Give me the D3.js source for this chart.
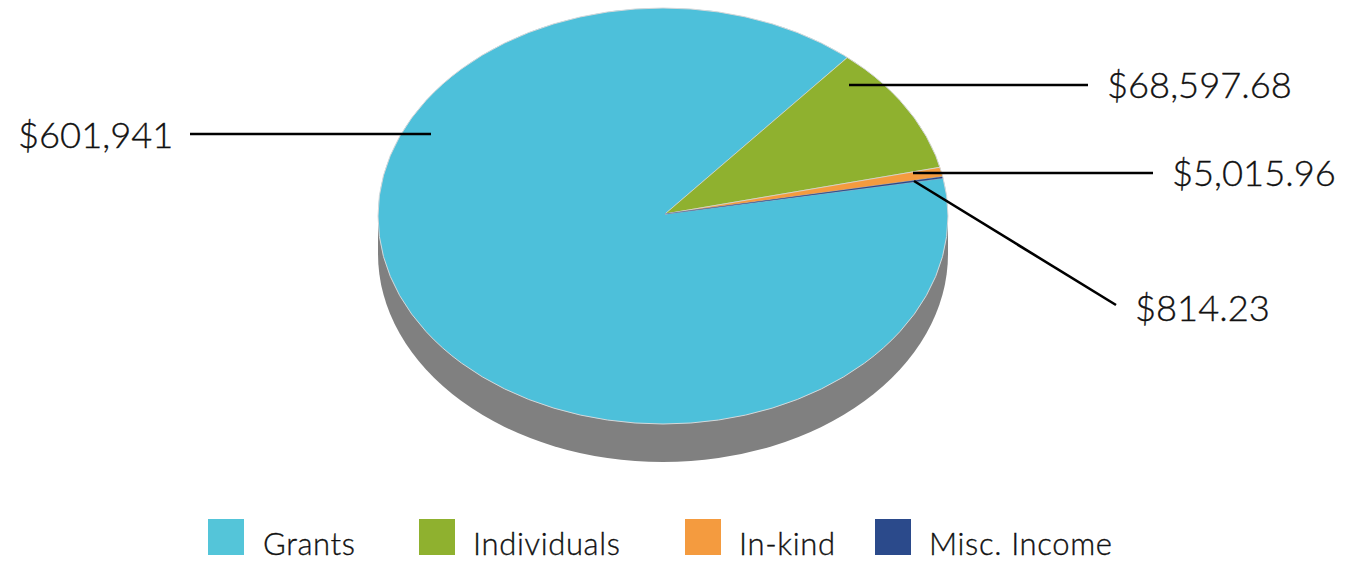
<!DOCTYPE html>
<html>
<head>
<meta charset="utf-8">
<script src="https://cdn.jsdelivr.net/npm/d3@7/dist/d3.min.js"></script>
<style>
  html, body { margin: 0; padding: 0; background: #fff; }
  svg { display: block; }
  text { font-family: Lato, "Open Sans", sans-serif; font-weight: 300; fill: #111; stroke: #111; stroke-width: 0.35px; }
</style>
</head>
<body>
<svg id="chart" width="1345" height="564"></svg>
<script>
// values
var categories = ['Grants', 'Individuals', 'In-kind', 'Misc. Income'];
var amounts = [601941, 68597.68, 5015.96, 814.23];
var amountLabels = ['$601,941', '$68,597.68', '$5,015.96', '$814.23'];
var colors = ['#4dc0da', '#8fb12f', '#f49b3f', '#2b4a8b'];

// layout: leader lines and label anchors, same order as categories
var leaders = [
    { x1: 431, y1: 134, x2: 190, y2: 134, tx: 18, ty: 148 },
    { x1: 849, y1: 85, x2: 1088, y2: 85, tx: 1107, ty: 98 },
    { x1: 913, y1: 173, x2: 1153, y2: 173, tx: 1172, ty: 186 },
    { x1: 914, y1: 181, x2: 1116, y2: 305, tx: 1135, ty: 321 }
];
var legendX = [208, 419, 685, 875];
var legendTextX = [263, 473, 739, 929];

var cx = 663, cy = 216, rx = 285, ry = 208, depth = 38;
// the wedges meet a little off the centre of the disc
var apexX = 665, apexY = 214;

var svg = d3.select('#chart');

svg.append('clipPath')
    .attr('id', 'disc')
    .append('ellipse')
    .attr('cx', cx)
    .attr('cy', cy)
    .attr('rx', rx)
    .attr('ry', ry);

// rim of the disc
var rim = svg.append('g').attr('fill', '#808080');
rim.append('ellipse').attr('cx', cx).attr('cy', cy + depth).attr('rx', rx).attr('ry', ry);
rim.append('rect').attr('x', cx - rx).attr('y', cy).attr('width', rx * 2).attr('height', depth);

// top of the disc, a round pie squashed in y
var pie = d3.pie().sort(null)
    .startAngle(80 * Math.PI / 180)
    .endAngle((80 + 360) * Math.PI / 180);
var arc = d3.arc().innerRadius(0).outerRadius(rx + 8);

svg.append('g')
    .attr('clip-path', 'url(#disc)')
    .append('g')
    .attr('transform', 'translate(' + apexX + ',' + apexY + ') scale(1,' + (ry / rx) + ')')
    .selectAll('path')
    .data(pie(amounts))
    .enter()
    .append('path')
    .attr('d', arc)
    .attr('fill', function (d, i) { return colors[i]; })
    .attr('stroke', function (d, i) { return i === 3 ? colors[3] : '#d9dde0'; })
    .attr('stroke-width', function (d, i) { return i === 3 ? 0.4 : 0.8; });

// pale edge round the top
svg.append('ellipse')
    .attr('cx', cx)
    .attr('cy', cy)
    .attr('rx', rx)
    .attr('ry', ry)
    .attr('fill', 'none')
    .attr('stroke', '#d5d8da')
    .attr('stroke-width', 1);

// leader lines
svg.selectAll('line.leader')
    .data(leaders)
    .enter()
    .append('line')
    .attr('class', 'leader')
    .attr('x1', function (d) { return d.x1; })
    .attr('y1', function (d) { return d.y1; })
    .attr('x2', function (d) { return d.x2; })
    .attr('y2', function (d) { return d.y2; })
    .attr('stroke', '#000')
    .attr('stroke-width', 2.6);

// amounts
svg.selectAll('text.amount')
    .data(amountLabels)
    .enter()
    .append('text')
    .attr('class', 'amount')
    .attr('x', function (d, i) { return leaders[i].tx; })
    .attr('y', function (d, i) { return leaders[i].ty; })
    .attr('font-size', 36.3)
    .text(function (d) { return d; });

// legend
svg.selectAll('rect.swatch')
    .data(categories)
    .enter()
    .append('rect')
    .attr('class', 'swatch')
    .attr('x', function (d, i) { return legendX[i]; })
    .attr('y', 519)
    .attr('width', 36)
    .attr('height', 36)
    .attr('fill', function (d, i) { return i === 0 ? '#54c5d9' : colors[i]; });

svg.selectAll('text.legend')
    .data(categories)
    .enter()
    .append('text')
    .attr('class', 'legend')
    .attr('x', function (d, i) { return legendTextX[i]; })
    .attr('y', 555)
    .attr('font-size', 31)
    .attr('letter-spacing', 0.65)
    .text(function (d) { return d; });
</script>
</body>
</html>
